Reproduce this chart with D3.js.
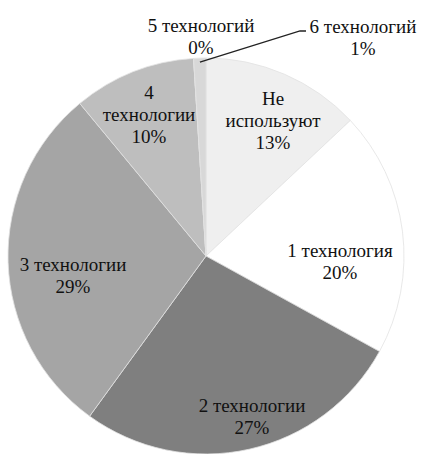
<!DOCTYPE html>
<html>
<head>
<meta charset="utf-8">
<script src="https://cdn.jsdelivr.net/npm/d3@7"></script>
<style>
  html, body { margin: 0; padding: 0; background: #fff; }
  svg { display: block; }
</style>
</head>
<body>
<div id="chart"></div>
<script>
const WIDTH = 422;
const HEIGHT = 454;
const CX = 206;
const CY = 256;
const RADIUS = 198;
const FONT_SIZE = 19;
const LINE_HEIGHT = 22;

// data, clockwise from 12 o'clock
const categories = ['Не используют', '1 технология', '2 технологии', '3 технологии', '4 технологии', '5 технологий', '6 технологий'];
const shares = [13, 20, 27, 29, 10, 0, 1];
// how each label is broken into lines
const labelLines = [['Не', 'используют'], ['1 технология'], ['2 технологии'], ['3 технологии'], ['4', 'технологии'], ['5 технологий'], ['6 технологий']];

// colours and label placement (relative to the pie centre)
const colors = ['#efefef', '#ffffff', '#7f7f7f', '#a5a5a5', '#bebebe', '#cfcfcf', '#d8d8d8'];
const labelOffsets = [[67, -136], [134, 5], [46, 160], [-133, 19], [-57, -142], [-5, -220], [157, -219]];

const svg = d3.select('#chart')
              .append('svg')
              .attr('width', WIDTH)
              .attr('height', HEIGHT);

const g = svg.append('g')
             .attr('transform', 'translate(' + CX + ',' + CY + ')');

const pie = d3.pie().sort(null).value(d => d);
const arcs = pie(shares);

const arc = d3.arc().innerRadius(0).outerRadius(RADIUS);

// slices
g.selectAll('path')
 .data(arcs)
 .enter()
 .append('path')
 .attr('d', arc)
 .attr('fill', (d, i) => colors[i])
 .attr('stroke', '#e2e2e2')
 .attr('stroke-width', 0.8);

// leader line for the tiny "6 технологий" slice
const last = arcs[6];
const mid = (last.startAngle + last.endAngle) / 2;
const anchor = [Math.sin(mid) * (RADIUS - 4), -Math.cos(mid) * (RADIUS - 4)];
const lbl = labelOffsets[6];
const textLeft = lbl[0] - 55;
g.append('polyline')
 .attr('points', [anchor, [textLeft - 8, lbl[1] - 6], [textLeft - 2, lbl[1] - 6]].map(p => p.join(',')).join(' '))
 .attr('fill', 'none')
 .attr('stroke', '#222')
 .attr('stroke-width', 1.3);

// labels: name lines followed by the percentage
arcs.forEach((d, i) => {
  const lines = labelLines[i].concat([shares[i] + '%']);
  const off = labelOffsets[i];
  const t = g.append('text')
             .attr('text-anchor', 'middle')
             .attr('font-family', 'Liberation Serif, Times New Roman, serif')
             .attr('font-size', FONT_SIZE)
             .attr('fill', '#111');
  lines.forEach((line, k) => {
    t.append('tspan')
     .attr('x', off[0])
     .attr('y', off[1] + (k - (lines.length - 1) / 2) * LINE_HEIGHT)
     .attr('dy', '0.35em')
     .text(line);
  });
});
</script>
</body>
</html>
